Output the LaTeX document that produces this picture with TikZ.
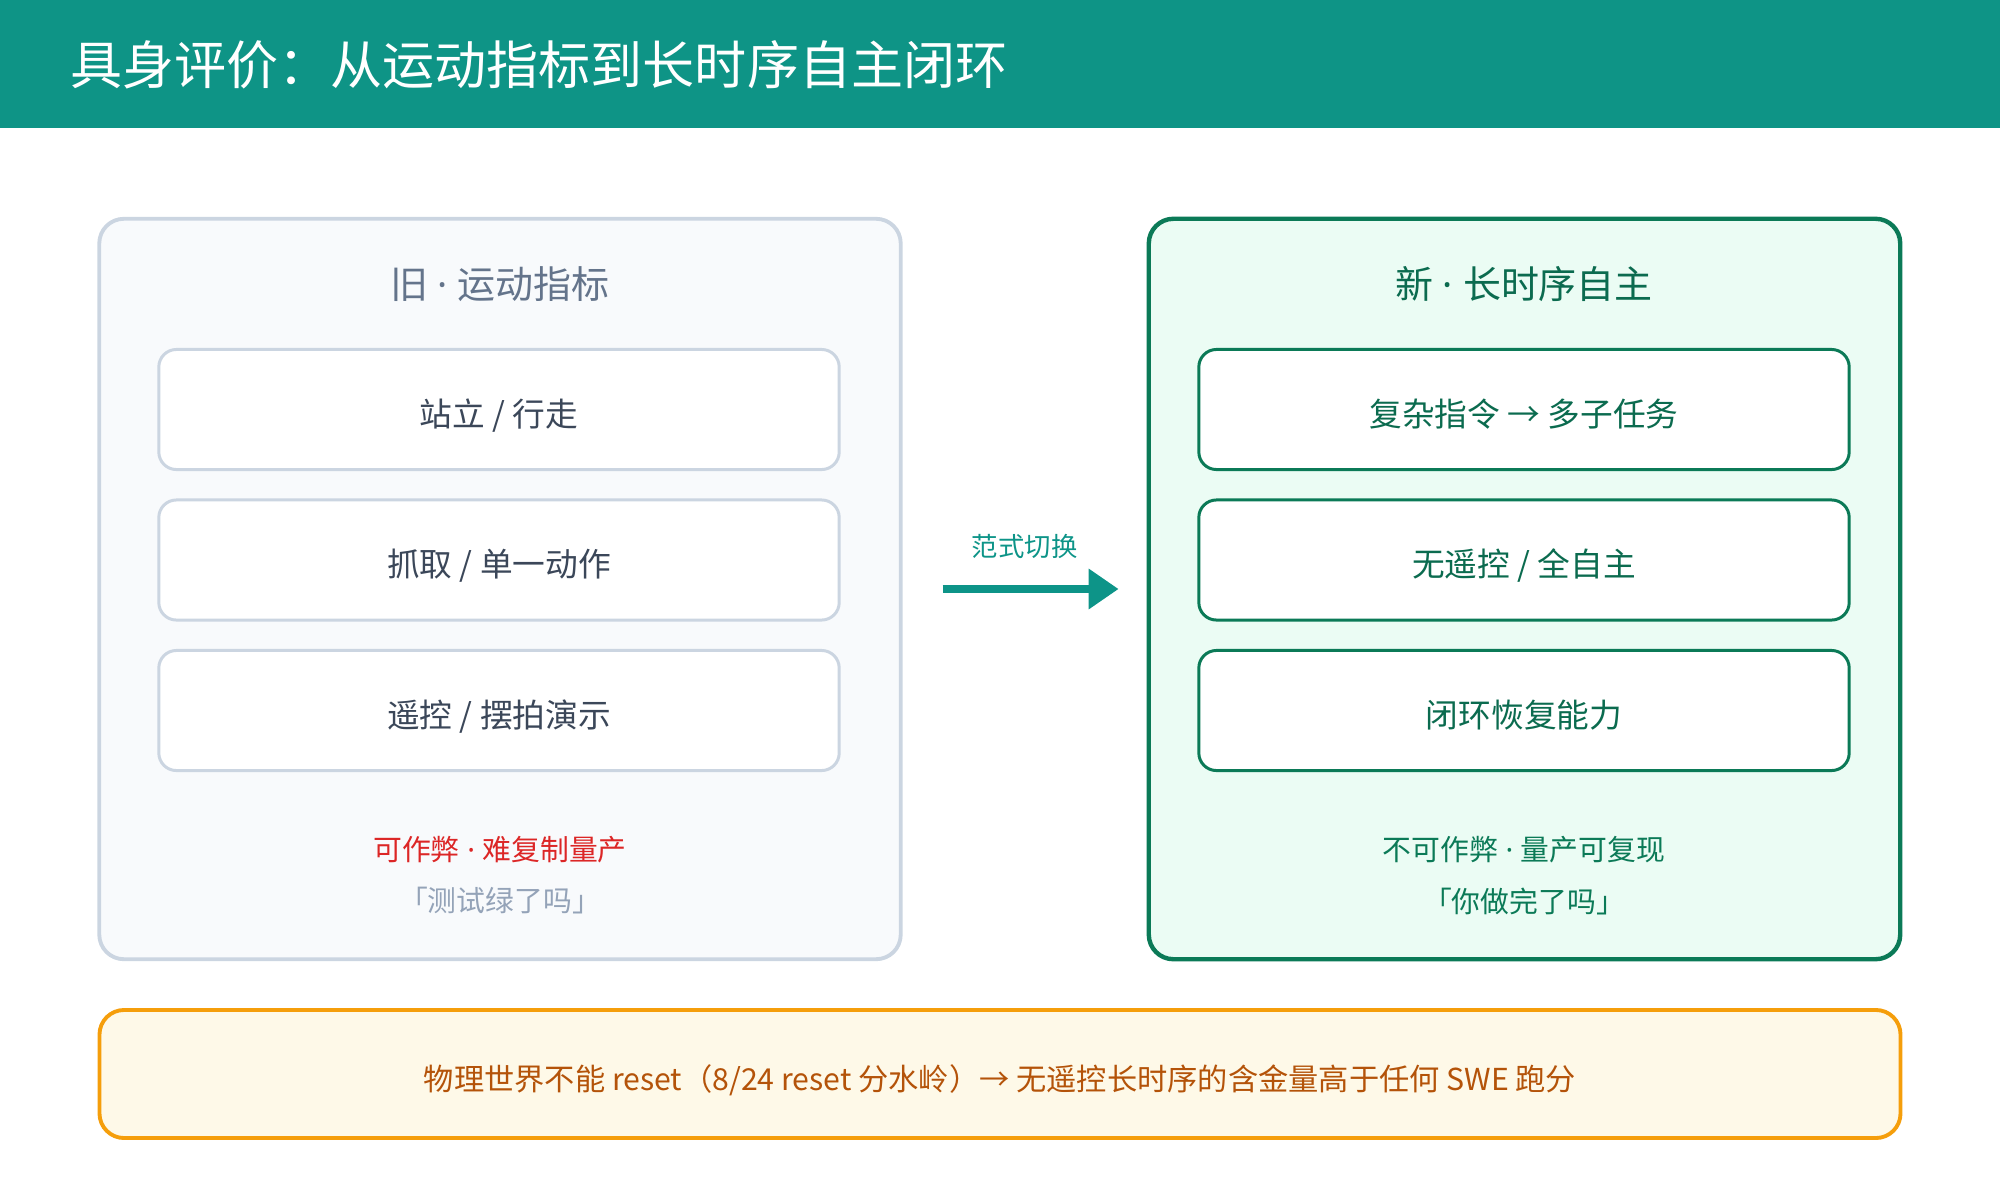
\documentclass[tikz,border=0pt]{standalone}
\usepackage{fontspec}
\setmainfont{Noto Sans CJK SC}
\newfontfamily\dotfont{Noto Sans}
\newcommand{\mdot}{{\dotfont\ ·\ }}
\usetikzlibrary{arrows.meta}
\definecolor{headbg}{HTML}{0E9486}
\definecolor{oldline}{HTML}{CBD5E1}
\definecolor{oldbg}{HTML}{F8FAFC}
\definecolor{oldhead}{HTML}{64748B}
\definecolor{oldtext}{HTML}{3B4759}
\definecolor{newline}{HTML}{0B7A57}
\definecolor{newbg}{HTML}{EBFCF4}
\definecolor{newtext}{HTML}{0B6B4F}
\definecolor{redtext}{HTML}{DC2626}
\definecolor{greytext}{HTML}{94A3B8}
\definecolor{arrowc}{HTML}{0D9488}
\definecolor{warnline}{HTML}{F59E0B}
\definecolor{warnbg}{HTML}{FEF9E8}
\definecolor{warntext}{HTML}{B45309}
\begin{document}
\begin{tikzpicture}[x=0.01cm,y=-0.01cm,
  panel/.style={line width=1.1pt, rounded corners=7pt, minimum height=7.4cm},
  itembox/.style={draw=oldline, fill=white, line width=0.85pt, rounded corners=5pt, minimum width=6.8cm, minimum height=1.2cm, text=oldtext, text height=1.0em, text depth=0.05em, font=\fontsize{9.3pt}{11pt}\selectfont},
  newitem/.style={itembox, draw=newline, minimum width=6.5cm, text=newtext},
  head/.style={font=\fontsize{10.8pt}{13pt}\selectfont},
  note/.style={font=\fontsize{8.2pt}{10pt}\selectfont}]
\useasboundingbox (0,0) rectangle (2000,1200);
\fill[headbg] (0,0) rectangle (2000,128);
\node[anchor=west, text=white, font=\fontsize{14.8pt}{18pt}\selectfont] (title) at (58,65) {具身评价：从运动指标到长时序自主闭环};

\node[panel, draw=oldline, fill=oldbg, minimum width=8.01cm] (oldp) at (500,589) {};
\node[panel, draw=newline, fill=newbg, line width=1.25pt, minimum width=7.51cm] (newp) at (1524.5,589) {};

\node[head, text=oldhead] (oldt) at (500,284) {旧\mdot 运动指标};
\node[itembox] (old1) at (499,409.5) {站立 / 行走};
\node[itembox] (old2) at (499,560) {抓取 / 单一动作};
\node[itembox] (old3) at (499,710.5) {遥控 / 摆拍演示};
\node[note, text=redtext] (oldn) at (500,850) {可作弊\mdot 难复制量产};
\node[note, text=greytext] (oldq) at (500,901) {「测试绿了吗」};

\node[head, text=newtext] (newt) at (1524,284) {新\mdot 长时序自主};
\node[newitem] (new1) at (1524,409.5) {复杂指令 → 多子任务};
\node[newitem] (new2) at (1524,560) {无遥控 / 全自主};
\node[newitem] (new3) at (1524,710.5) {闭环恢复能力};
\node[note, text=newline] (newn) at (1524,850) {不可作弊\mdot 量产可复现};
\node[note, text=newline] (newq) at (1524,901) {「你做完了吗」};

\draw[arrowc, line width=2.3pt, -{Triangle[length=8.5pt,width=11pt]}, shorten <=0.4cm, shorten >=0.28cm] (oldp.east) -- node[above=0.26cm, inner sep=0, font=\fontsize{7.5pt}{9pt}\selectfont] {范式切换} (newp.west);

\node[draw=warnline, fill=warnbg, line width=1.1pt, rounded corners=7pt, minimum width=18cm, minimum height=1.28cm, text=warntext, text height=1.0em, text depth=0.05em, font=\fontsize{8.6pt}{10pt}\selectfont] (bottom) at (1000,1074) {物理世界不能 reset（8/24 reset 分水岭）→ 无遥控长时序的含金量高于任何 SWE 跑分};
\end{tikzpicture}
\end{document}
